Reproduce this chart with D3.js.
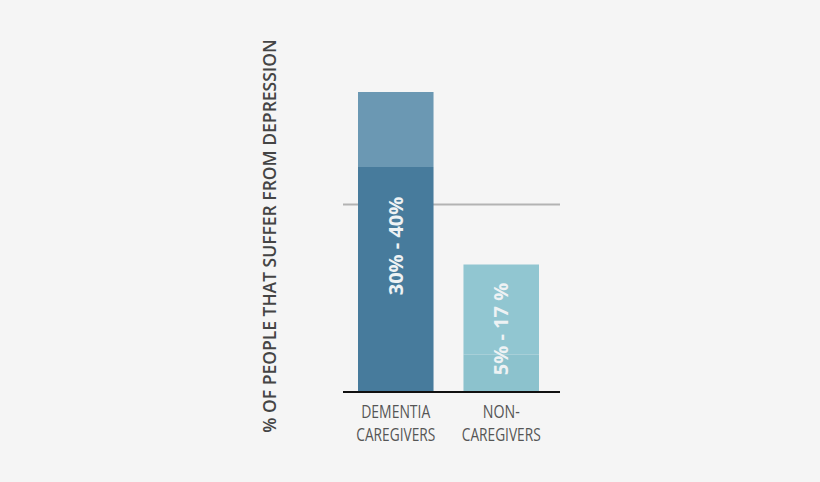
<!DOCTYPE html>
<html>
<head>
<meta charset="utf-8">
<script src="https://cdn.jsdelivr.net/npm/d3@7"></script>
<style>
  body { margin: 0; background: #f5f5f5; }
  svg { display: block; }
</style>
</head>
<body>
<div id="chart"></div>
<script>
// groups and their ranges (% of people that suffer from depression)
let groups = ["DEMENTIA CAREGIVERS", "NON- CAREGIVERS"];
let lowValues = [30, 5];
let highValues = [40, 17];
let rangeLabels = ["30% - 40%", "5% - 17 %"];
let refLine = 25;

let width = 820, height = 482;

let svg = d3.select("#chart")
  .append("svg")
  .attr("width", width)
  .attr("height", height);

svg.append("rect")
  .attr("width", width).attr("height", height)
  .attr("fill", "#f5f5f5");

// scales
let xScale = d3.scaleBand().domain(groups).range([358, 539]).paddingInner(0.284).paddingOuter(0);
let yScale = d3.scaleLinear().domain([0, 40]).range([392, 92]);

let lowColors = ["#477b9c", "#8cc2cd"];
let highColors = ["#6b98b3", "#91c6d1"];

// reference line
svg.append("line")
  .attr("x1", 343).attr("x2", 560)
  .attr("y1", yScale(refLine)).attr("y2", yScale(refLine))
  .attr("stroke", "#b3b3b3").attr("stroke-width", 2);

// upper part (low -> high)
svg.append("g")
  .selectAll("rect")
  .data(groups)
  .enter()
  .append("rect")
  .attr("x", d => xScale(d))
  .attr("width", xScale.bandwidth())
  .attr("y", (d, i) => yScale(highValues[i]))
  .attr("height", (d, i) => yScale(lowValues[i]) - yScale(highValues[i]))
  .attr("fill", (d, i) => highColors[i]);

// lower part (0 -> low)
svg.append("g")
  .selectAll("rect")
  .data(groups)
  .enter()
  .append("rect")
  .attr("x", d => xScale(d))
  .attr("width", xScale.bandwidth())
  .attr("y", (d, i) => yScale(lowValues[i]))
  .attr("height", (d, i) => yScale(0) - yScale(lowValues[i]))
  .attr("fill", (d, i) => lowColors[i]);

// baseline
svg.append("line")
  .attr("x1", 343).attr("x2", 560)
  .attr("y1", yScale(0)).attr("y2", yScale(0))
  .attr("stroke", "#111").attr("stroke-width", 2);

// range labels inside bars
let labelCenters = [246, 329];
svg.append("g")
  .selectAll("text")
  .data(rangeLabels)
  .enter()
  .append("text")
  .attr("transform", (d, i) => `translate(${xScale(groups[i]) + xScale.bandwidth() / 2 + 7},${labelCenters[i]}) rotate(-90)`)
  .attr("text-anchor", "middle")
  .attr("font-family", "'Open Sans', sans-serif")
  .attr("font-weight", "bold")
  .attr("font-size", 20)
  .attr("fill", "#eef2f4")
  .text(d => d);

// category labels (two lines), condensed to match the narrow face
let lineWidths = { "DEMENTIA": 69, "CAREGIVERS": 79, "NON-": 37 };
let cats = svg.append("g")
  .selectAll("text")
  .data(groups)
  .enter()
  .append("text")
  .attr("text-anchor", "middle")
  .attr("font-family", "'Open Sans', sans-serif")
  .attr("font-size", 18)
  .attr("fill", "#555");

cats.each(function(d) {
  let parts = d.split(" ");
  let cx = xScale(d) + xScale.bandwidth() / 2;
  d3.select(this).selectAll("tspan")
    .data(parts)
    .enter()
    .append("tspan")
    .attr("x", cx)
    .attr("y", (p, j) => 418 + j * 23)
    .attr("textLength", p => lineWidths[p])
    .attr("lengthAdjust", "spacingAndGlyphs")
    .text(p => p);
});

// y axis title
svg.append("text")
  .attr("transform", "translate(276,236) rotate(-90)")
  .attr("text-anchor", "middle")
  .attr("font-family", "'Open Sans', sans-serif")
  .attr("font-weight", 600)
  .attr("font-size", 17.5)
  .attr("fill", "#444")
  .text("% OF PEOPLE THAT SUFFER FROM DEPRESSION");
</script>
</body>
</html>
